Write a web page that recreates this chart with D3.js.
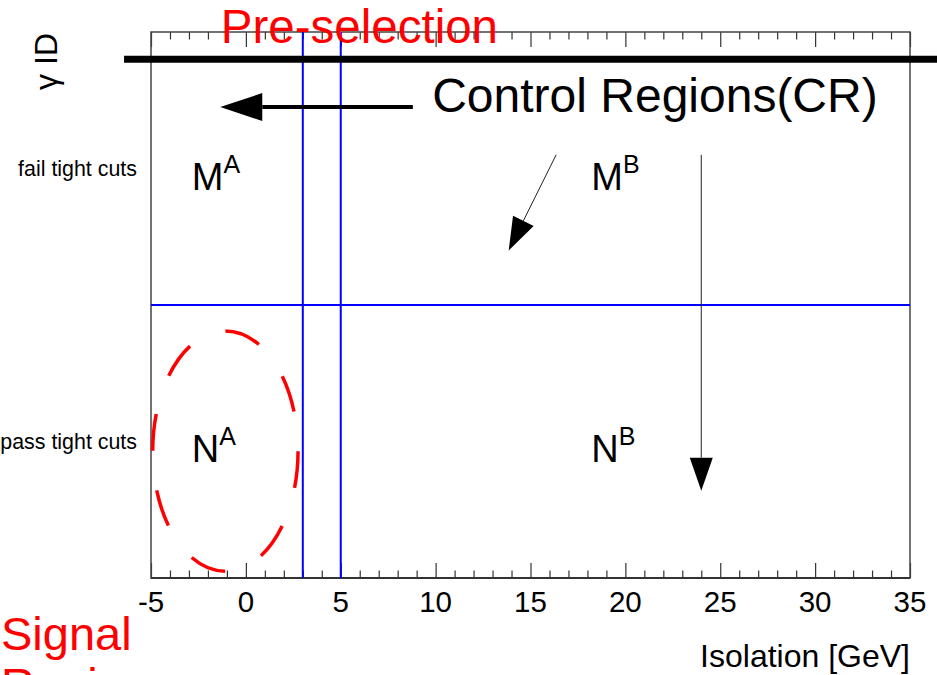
<!DOCTYPE html>
<html>
<head>
<meta charset="utf-8">
<script src="https://cdn.jsdelivr.net/npm/d3@7"></script>
<style>
  body { margin: 0; background: white; }
  text { font-family: "Liberation Sans", Arial, Helvetica, sans-serif; }
</style>
</head>
<body>
<script>
// axis ticks (isolation in GeV)
const majorTicks = [-5, 0, 5, 10, 15, 20, 25, 30, 35];
const minorTicks = [-4, -3, -2, -1, 1, 2, 3, 4, 6, 7, 8, 9, 11, 12, 13, 14, 16, 17, 18, 19,
                    21, 22, 23, 24, 26, 27, 28, 29, 31, 32, 33, 34];
// photon ID categories (y) and their centres
const idLabels = ["pass tight cuts", "fail tight cuts"];
const idCentres = [0.5, 1.5];
// cut values
const isoCuts = [3, 5];
const idCut = [1];
const preselectionY = [1.9];
// region labels
const regionNames = ["M", "M", "N", "N"];
const regionSups = ["A", "B", "A", "B"];
const regionIso = [-2.85, 18.2, -2.85, 18.2];
const regionId = [1.42, 1.42, 0.425, 0.425];
// signal region ellipse: centre and half axes in data units
const signalCentre = [-1.08, 0.465];
const signalRadii = [3.83, 0.44];
// arrows: [x0, y0, x1, y1] in data units (tip at x1,y1)
const arrowsThick = [[8.8, 1.725, -1.35, 1.725]];
const arrowsThin = [[16.35, 1.55, 13.85, 1.2], [24, 1.55, 24, 0.32]];

const width = 937, height = 675;
const mLeft = 151, mRight = 910, mTop = 32, mBottom = 578;

const svg = d3.select("body").append("svg")
    .attr("width", width)
    .attr("height", height);

const x = d3.scaleLinear().domain([-5, 35]).range([mLeft, mRight]);
const y = d3.scaleLinear().domain([0, 2]).range([mBottom, mTop]);

// ticks on bottom and top of the frame, pointing inward
function ticks(g, axisFn, vals, size) {
    g.call(axisFn(x).tickValues(vals).tickSize(size).tickSizeOuter(0).tickFormat(""))
        .call(a => a.select(".domain").remove())
        .selectAll("line").attr("stroke", "#333").attr("stroke-width", 1.2);
}
ticks(svg.append("g").attr("transform", `translate(0,${mBottom})`), d3.axisBottom, minorTicks, -7.5);
ticks(svg.append("g").attr("transform", `translate(0,${mBottom})`), d3.axisBottom, majorTicks, -15);
ticks(svg.append("g").attr("transform", `translate(0,${mTop})`), d3.axisTop, minorTicks, -7.5);
ticks(svg.append("g").attr("transform", `translate(0,${mTop})`), d3.axisTop, majorTicks, -15);

// frame
svg.append("rect")
    .attr("x", mLeft).attr("y", mTop)
    .attr("width", mRight - mLeft).attr("height", mBottom - mTop)
    .attr("fill", "none").attr("stroke", "#444").attr("stroke-width", 1.5);
svg.append("line")
    .attr("x1", mLeft).attr("x2", mRight)
    .attr("y1", mBottom).attr("y2", mBottom)
    .attr("stroke", "#333").attr("stroke-width", 2);

// tick labels
svg.selectAll(".xlab").data(majorTicks).enter().append("text")
    .attr("x", d => x(d)).attr("y", 612)
    .attr("text-anchor", "middle")
    .attr("font-size", 29.5)
    .text(d => d);

// axis titles
svg.append("text")
    .attr("x", mRight).attr("y", 667)
    .attr("text-anchor", "end")
    .attr("font-size", 32)
    .text("Isolation [GeV]");
svg.append("text")
    .attr("transform", `translate(57,${mTop + 1}) rotate(-90)`)
    .attr("text-anchor", "end")
    .attr("font-size", 32)
    .text("γ ID");

svg.selectAll(".ylab").data(idLabels).enter().append("text")
    .attr("x", 137).attr("y", (d, i) => y(idCentres[i]))
    .attr("dy", "0.35em")
    .attr("text-anchor", "end")
    .attr("font-size", 21.4)
    .text(d => d);

// cut lines
svg.selectAll(".isocut").data(isoCuts).enter().append("line")
    .attr("x1", d => x(d)).attr("x2", d => x(d))
    .attr("y1", mTop).attr("y2", mBottom)
    .attr("stroke", "#0000ff").attr("stroke-width", 2);
svg.selectAll(".idcut").data(idCut).enter().append("line")
    .attr("x1", mLeft).attr("x2", mRight)
    .attr("y1", d => y(d)).attr("y2", d => y(d))
    .attr("stroke", "#0000ff").attr("stroke-width", 2);

// pre-selection bar
svg.selectAll(".presel").data(preselectionY).enter().append("line")
    .attr("x1", x(-6.42)).attr("x2", width)
    .attr("y1", d => y(d)).attr("y2", d => y(d))
    .attr("stroke", "black").attr("stroke-width", 7);

// signal region ellipse (start at top, go clockwise)
const cx = x(signalCentre[0]), cy = y(signalCentre[1]);
const rx = x(signalCentre[0] + signalRadii[0]) - cx;
const ry = cy - y(signalCentre[1] + signalRadii[1]);
const ell = svg.append("path")
    .attr("d", `M${cx},${cy - ry} A${rx},${ry} 0 1 1 ${cx},${cy + ry} A${rx},${ry} 0 1 1 ${cx},${cy - ry}`)
    .attr("fill", "none")
    .attr("stroke", "#ff0000")
    .attr("stroke-width", 3.5);
const per = ell.node().getTotalLength() / 8;
ell.attr("stroke-dasharray", `${per * 0.48},${per * 0.52}`);

// region labels
const rl = svg.selectAll(".region").data(regionNames).enter().append("text")
    .attr("x", (d, i) => x(regionIso[i]))
    .attr("y", (d, i) => y(regionId[i]))
    .attr("font-size", 38);
rl.append("tspan").text(d => d);
rl.append("tspan")
    .attr("font-size", 25)
    .attr("dy", -17)
    .text((d, i) => regionSups[i]);

// arrows
function arrow(a, lw, color, headLen, headHalf) {
    const x0 = x(a[0]), y0 = y(a[1]), x1 = x(a[2]), y1 = y(a[3]);
    const ang = Math.atan2(y1 - y0, x1 - x0);
    const bx = x1 - headLen * Math.cos(ang), by = y1 - headLen * Math.sin(ang);
    svg.append("line")
        .attr("x1", x0).attr("y1", y0).attr("x2", bx).attr("y2", by)
        .attr("stroke", color).attr("stroke-width", lw);
    const px = -Math.sin(ang) * headHalf, py = Math.cos(ang) * headHalf;
    svg.append("path")
        .attr("d", `M${x1},${y1} L${bx + px},${by + py} L${bx - px},${by - py} Z`)
        .attr("fill", "black");
}
arrowsThick.forEach(a => arrow(a, 4, "black", 42, 14));
arrowsThin.forEach(a => arrow(a, 1, "#222", 33, 11.5));

// annotations
svg.append("text")
    .attr("x", x(-1.32)).attr("y", 43)
    .attr("font-size", 47.5).attr("fill", "#ff0000")
    .text("Pre-selection");
svg.append("text")
    .attr("x", x(9.82)).attr("y", 112)
    .attr("font-size", 48).attr("fill", "black")
    .text("Control Regions(CR)");
const sig = svg.append("text")
    .attr("x", 1).attr("y", 650)
    .attr("font-size", 47).attr("fill", "#ff0000");
sig.append("tspan").attr("x", 1).text("Signal");
sig.append("tspan").attr("x", 1).attr("dy", 51).text("Region");
</script>
</body>
</html>
